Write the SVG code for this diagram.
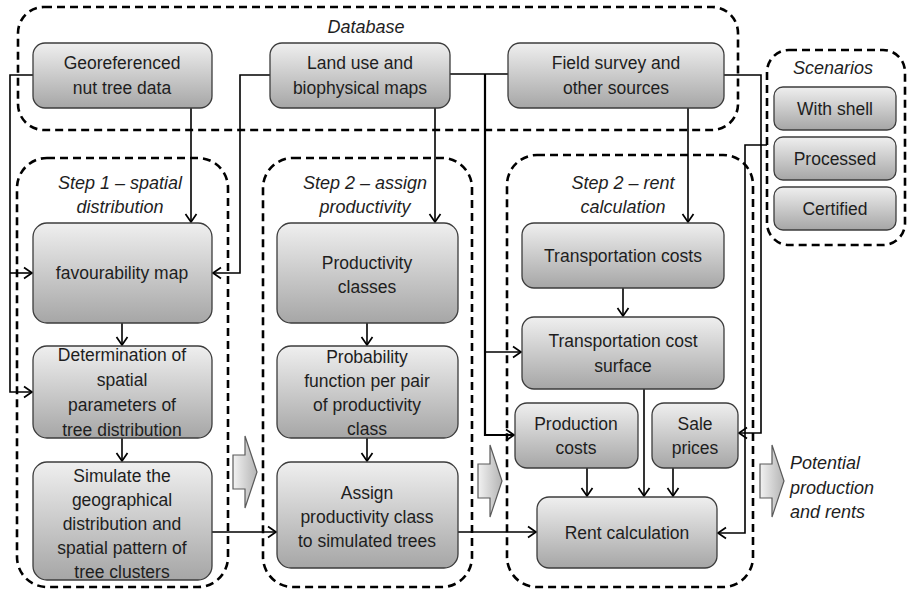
<svg xmlns="http://www.w3.org/2000/svg" width="911" height="594" viewBox="0 0 911 594">
<defs>
<linearGradient id="gBox" x1="0" y1="0" x2="0" y2="1">
<stop offset="0" stop-color="#efefef"/>
<stop offset="1" stop-color="#a6a6a6"/>
</linearGradient>
<linearGradient id="gArr" x1="0" y1="0" x2="1" y2="0">
<stop offset="0" stop-color="#f2f2f2"/>
<stop offset="1" stop-color="#b4b4b4"/>
</linearGradient>
<marker id="arr" viewBox="-10 -7 12 14" refX="0" refY="0" markerWidth="12" markerHeight="14" markerUnits="userSpaceOnUse" orient="auto">
<path d="M-8,-5.5 L0,0 L-8,5.5" fill="none" stroke="#000" stroke-width="1.7"/>
</marker>
<path id="blk" d="M0,-17 H12 V-36 L24,0 L12,36 V17 H0 Z"/>
</defs>
<style>
.cont{fill:none;stroke:#000;stroke-width:2.6;stroke-dasharray:8 5}
.box{fill:url(#gBox);stroke:#3c3c3c;stroke-width:1.3}
.t{font-family:"Liberation Sans",Arial,sans-serif;font-size:17.5px;fill:#1e1e1e;text-anchor:middle}
.it{font-family:"Liberation Sans",Arial,sans-serif;font-size:18px;font-style:italic;fill:#1e1e1e;text-anchor:middle}
.ln{fill:none;stroke:#000;stroke-width:1.6}
.la{fill:none;stroke:#000;stroke-width:1.6;marker-end:url(#arr)}
.bk{fill:url(#gArr);stroke:#5a5a5a;stroke-width:1.2}
</style>
<rect width="911" height="594" fill="#fff"/>

<g id="containers">
<rect id="database" class="cont" x="18" y="7" width="720" height="123" rx="26"/>
<rect id="scenarios" class="cont" x="767" y="50" width="138" height="195" rx="22"/>
<rect id="step1" class="cont" x="17" y="158" width="211" height="429" rx="30"/>
<rect id="step2" class="cont" x="263" y="158" width="209" height="429" rx="30"/>
<rect id="step3" class="cont" x="507" y="155" width="246" height="432" rx="30"/>
</g>
<g id="labels">
<text class="it" x="366" y="33">Database</text>
<text class="it" x="833" y="74">Scenarios</text>
<text class="it" x="120" y="189">Step 1 – spatial</text>
<text class="it" x="120" y="213">distribution</text>
<text class="it" x="365" y="189">Step 2 – assign</text>
<text class="it" x="365" y="213">productivity</text>
<text class="it" x="623" y="189">Step 2 – rent</text>
<text class="it" x="623" y="213">calculation</text>
</g>

<g id="connectors">
<path class="la" d="M191,108 V222"/>
<path class="la" d="M33,75 H10 V392 H32"/>
<path class="la" d="M10,273 H32"/>
<path class="la" d="M270,75 H240 V273 H213"/>
<path class="la" d="M435,108 V222"/>
<path class="ln" d="M450,74 H508"/>
<path class="la" d="M485,74 V435 H514" style="stroke-width:2.2"/>
<path class="la" d="M485,352 H521"/>
<path class="la" d="M688,108 V222"/>
<path class="la" d="M724,75 H761 V433 H739"/>
<path class="la" d="M767,145 H745 V533 H718"/>
<path class="la" d="M122,323 V345"/>
<path class="la" d="M122,438 V461"/>
<path class="la" d="M367,323 V345"/>
<path class="la" d="M367,438 V461"/>
<path class="la" d="M212,532 H276"/>
<path class="la" d="M458,532 H536"/>
<path class="la" d="M623,288 V316"/>
<path class="la" d="M644,389 V496"/>
<path class="la" d="M587,468 V496"/>
<path class="la" d="M673,468 V496"/>
</g>

<g id="n-geo"><rect class="box" x="33" y="43" width="179" height="65" rx="12"/>
<text class="t" x="122" y="69">Georeferenced</text><text class="t" x="122" y="94">nut tree data</text></g>
<g id="n-land"><rect class="box" x="270" y="43" width="180" height="65" rx="12"/>
<text class="t" x="360" y="69">Land use and</text><text class="t" x="360" y="94">biophysical maps</text></g>
<g id="n-field"><rect class="box" x="508" y="43" width="216" height="65" rx="12"/>
<text class="t" x="616" y="69">Field survey and</text><text class="t" x="616" y="94">other sources</text></g>

<g id="n-shell"><rect class="box" x="774" y="87" width="122" height="43" rx="9"/>
<text class="t" x="835" y="115">With shell</text></g>
<g id="n-processed"><rect class="box" x="774" y="137" width="122" height="43" rx="9"/>
<text class="t" x="835" y="165">Processed</text></g>
<g id="n-certified"><rect class="box" x="774" y="187" width="122" height="43" rx="9"/>
<text class="t" x="835" y="215">Certified</text></g>

<g id="n-fav"><rect class="box" x="33" y="223" width="179" height="100" rx="14"/>
<text class="t" x="122" y="279">favourability map</text></g>
<g id="n-det"><rect class="box" x="33" y="346" width="179" height="92" rx="14"/>
<text class="t" x="122" y="361">Determination of</text><text class="t" x="122" y="386">spatial</text>
<text class="t" x="122" y="411">parameters of</text><text class="t" x="122" y="436">tree distribution</text></g>
<g id="n-sim"><rect class="box" x="33" y="462" width="179" height="118" rx="14"/>
<text class="t" x="122" y="482">Simulate the</text><text class="t" x="122" y="506">geographical</text>
<text class="t" x="122" y="530">distribution and</text><text class="t" x="122" y="554">spatial pattern of</text>
<text class="t" x="122" y="578">tree clusters</text></g>

<g id="n-pclass"><rect class="box" x="277" y="223" width="181" height="100" rx="14"/>
<text class="t" x="367" y="269">Productivity</text><text class="t" x="367" y="293">classes</text></g>
<g id="n-prob"><rect class="box" x="277" y="346" width="181" height="92" rx="14"/>
<text class="t" x="367" y="363">Probability</text><text class="t" x="367" y="387">function per pair</text>
<text class="t" x="367" y="411">of productivity</text><text class="t" x="367" y="435">class</text></g>
<g id="n-assign"><rect class="box" x="277" y="462" width="181" height="106" rx="14"/>
<text class="t" x="367" y="499">Assign</text><text class="t" x="367" y="523">productivity class</text>
<text class="t" x="367" y="547">to simulated trees</text></g>

<g id="n-tcost"><rect class="box" x="522" y="223" width="202" height="65" rx="12"/>
<text class="t" x="623" y="262">Transportation costs</text></g>
<g id="n-tsurf"><rect class="box" x="522" y="317" width="202" height="72" rx="12"/>
<text class="t" x="623" y="347">Transportation cost</text><text class="t" x="623" y="372">surface</text></g>
<g id="n-pcost"><rect class="box" x="515" y="403" width="123" height="65" rx="12"/>
<text class="t" x="576" y="430">Production</text><text class="t" x="576" y="454">costs</text></g>
<g id="n-sale"><rect class="box" x="652" y="403" width="86" height="65" rx="12"/>
<text class="t" x="695" y="430">Sale</text><text class="t" x="695" y="454">prices</text></g>
<g id="n-rent"><rect class="box" x="537" y="497" width="180" height="71" rx="12"/>
<text class="t" x="627" y="539">Rent calculation</text></g>

<g id="block-arrows">
<use href="#blk" class="bk" transform="translate(233,472)"/>
<use href="#blk" class="bk" transform="translate(478,481)"/>
<use href="#blk" class="bk" transform="translate(760,481)"/>
</g>
<g id="output">
<text class="it" x="790" y="469" style="text-anchor:start">Potential</text>
<text class="it" x="790" y="494" style="text-anchor:start">production</text>
<text class="it" x="790" y="518" style="text-anchor:start">and rents</text>
</g>
</svg>
